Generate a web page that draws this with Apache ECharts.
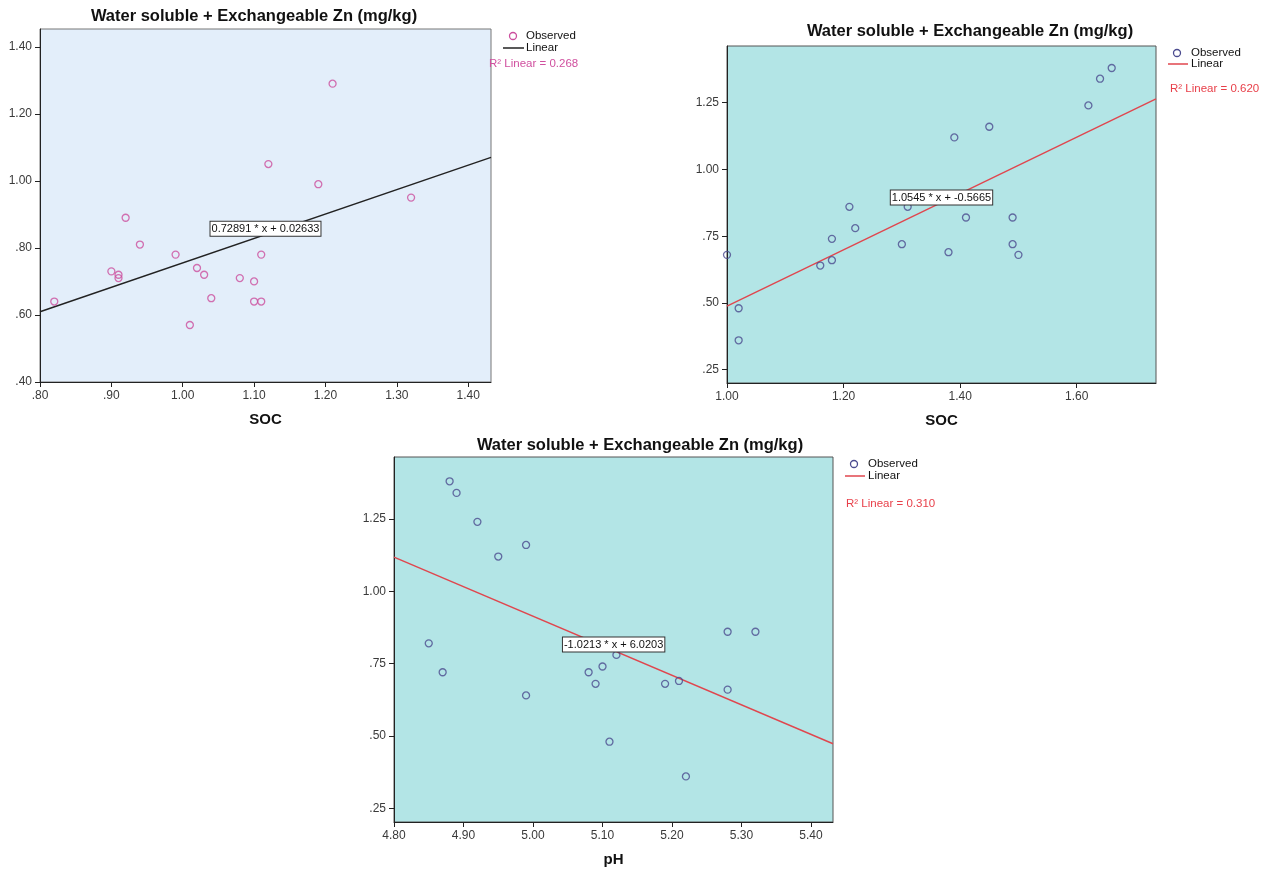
<!DOCTYPE html>
<html>
<head>
<meta charset="utf-8">
<title>Water soluble + Exchangeable Zn</title>
<script src="https://cdn.jsdelivr.net/npm/echarts@6/dist/echarts.min.js"></script>
<style>
html,body{margin:0;padding:0;background:#fff}
#chart{width:1267px;height:869px}
</style>
</head>
<body>
<div id="chart"></div>
<script>
// panel 1 : SOC vs Zn
const soc1 = [0.82,0.90,0.91,0.91,0.92,0.94,0.99,1.01,1.02,1.03,1.04,1.08,1.10,1.10,1.11,1.11,1.12,1.19,1.21,1.32]
const zn1  = [0.64,0.73,0.72,0.71,0.89,0.81,0.78,0.57,0.74,0.72,0.65,0.71,0.70,0.64,0.64,0.78,1.05,0.99,1.29,0.95]
// panel 2 : SOC vs Zn
const soc2 = [1.00,1.02,1.02,1.16,1.18,1.18,1.21,1.22,1.30,1.31,1.38,1.39,1.41,1.45,1.49,1.49,1.50,1.62,1.64,1.66]
const zn2  = [0.68,0.48,0.36,0.64,0.74,0.66,0.86,0.78,0.72,0.86,0.69,1.12,0.82,1.16,0.82,0.72,0.68,1.24,1.34,1.38]
// panel 3 : pH vs Zn
const ph3 = [4.85,4.87,4.88,4.89,4.92,4.95,4.99,4.99,5.08,5.09,5.10,5.11,5.12,5.19,5.21,5.22,5.28,5.28,5.32]
const zn3 = [0.82,0.72,1.38,1.34,1.24,1.12,1.16,0.64,0.72,0.68,0.74,0.48,0.78,0.68,0.69,0.36,0.86,0.66,0.86]

// fitted lines (slope, intercept) and R2
const fit1 = [0.72891, 0.02633]
const fit2 = [1.0545, -0.5665]
const fit3 = [-1.0213, 6.0203]
const r2 = ['0.268', '0.620', '0.310']
const eqText = ['0.72891 * x + 0.02633', '1.0545 * x + -0.5665', '-1.0213 * x + 6.0203']

// tick labels
const xTicks1 = [0.8,0.9,1.0,1.1,1.2,1.3,1.4]
const yTicks1 = [0.4,0.6,0.8,1.0,1.2,1.4]
const xTicks2 = [1.0,1.2,1.4,1.6]
const yTicks2 = [0.25,0.5,0.75,1.0,1.25]
const xTicks3 = [4.8,4.9,5.0,5.1,5.2,5.3,5.4]
const yTicks3 = [0.25,0.5,0.75,1.0,1.25]

const titleText = 'Water soluble + Exchangeable Zn (mg/kg)'
const FONT = '"Liberation Sans", Arial, sans-serif'

const mychart = echarts.init(document.getElementById('chart'))

function fmt(v){
  return v.toFixed(2).replace(/^0\./, '.')
}
function pairs(xs, ys){
  return xs.map((x,i)=>[x, ys[i]])
}
function fitLine(f, lo, hi){
  return [[lo, f[0]*lo+f[1]], [hi, f[0]*hi+f[1]]]
}

const ranges = [
  {x:[0.8,1.432], y:[0.4,1.453]},
  {x:[1.0,1.736], y:[0.2,1.4625]},
  {x:[4.8,5.4316], y:[0.2025,1.464]}
]
const xTicks = [xTicks1, xTicks2, xTicks3]
const yTicks = [yTicks1, yTicks2, yTicks3]
const xNames = ['SOC','SOC','pH']

function xAxisOf(i){
  return {
    type:'value', gridIndex:i,
    min:ranges[i].x[0], max:ranges[i].x[1],
    name:xNames[i], nameLocation:'middle', nameGap:30,
    nameTextStyle:{fontSize:15, fontWeight:'bold', color:'#111', fontFamily:FONT},
    axisLine:{show:true, onZero:false, lineStyle:{color:'#222', width:1}},
    axisTick:{show:true, length:5, customValues:xTicks[i], lineStyle:{color:'#222'}},
    axisLabel:{customValues:xTicks[i], formatter:fmt, margin:8, fontSize:12, color:'#3a3a3a', fontFamily:FONT},
    splitLine:{show:false}
  }
}
function yAxisOf(i){
  return {
    type:'value', gridIndex:i,
    min:ranges[i].y[0], max:ranges[i].y[1],
    axisLine:{show:true, onZero:false, lineStyle:{color:'#222', width:1}},
    axisTick:{show:true, length:5, customValues:yTicks[i], lineStyle:{color:'#222'}},
    axisLabel:{customValues:yTicks[i], formatter:fmt, margin:8, fontSize:12, color:'#3a3a3a', fontFamily:FONT},
    splitLine:{show:false}
  }
}

const markerCol = ['#cc4f9e', '#4b4b8f', '#4b4b8f']
const lineCol = ['#222222', '#e0464e', '#e0464e']
const r2Col = ['#d0509f', '#e8404a', '#e8404a']
const eqPos = [[1.116, 0.857], [1.368, 0.895], [5.116, 0.816]]
const fits = [fit1, fit2, fit3]
const pts = [pairs(soc1, zn1), pairs(soc2, zn2), pairs(ph3, zn3)]

const series = []
for (let i = 0; i < 3; i++) {
  series.push({
    name:'Linear', type:'line', xAxisIndex:i, yAxisIndex:i,
    data:fitLine(fits[i], ranges[i].x[0], ranges[i].x[1]),
    showSymbol:false, symbol:'none', silent:true,
    lineStyle:{color:lineCol[i], width:1.4},
    z:2,
    markPoint:{
      silent:true, symbol:'rect', symbolSize:0,
      data:[{coord:eqPos[i]}],
      label:{
        show:true, position:'inside', formatter:eqText[i],
        backgroundColor:'#fff', borderColor:'#333', borderWidth:1,
        padding:[2,1,1,1], color:'#111', fontSize:11, fontFamily:FONT
      },
      z:10
    }
  })
  series.push({
    name:'Observed', type:'scatter', xAxisIndex:i, yAxisIndex:i,
    data:pts[i], symbol:'circle', symbolSize:7,
    itemStyle:{color:'rgba(0,0,0,0)', borderColor:markerCol[i], borderWidth:1.3},
    z:3
  })
}

// legend boxes (pixel layout), titles
const legendPos = [
  {cx:513, cy:36, lx1:503, lx2:524, ly:48, tx:526, r2x:489, r2y:64},
  {cx:1177, cy:53, lx1:1168, lx2:1188, ly:64, tx:1191, r2x:1170, r2y:89},
  {cx:854, cy:464, lx1:845, lx2:865, ly:476, tx:868, r2x:846, r2y:504}
]
const titlePos = [[254, 16], [970, 31], [640, 445]]

const graphic = []
for (let i = 0; i < 3; i++) {
  const p = legendPos[i]
  graphic.push({type:'circle', shape:{cx:p.cx, cy:p.cy, r:3.5}, style:{fill:'none', stroke:markerCol[i], lineWidth:1.3}, z:20})
  graphic.push({type:'text', x:p.tx, y:p.cy, style:{text:'Observed', fill:'#111', font:'11.5px ' + FONT, align:'left', verticalAlign:'middle'}, z:20})
  graphic.push({type:'line', shape:{x1:p.lx1, y1:p.ly, x2:p.lx2, y2:p.ly}, style:{stroke:lineCol[i], lineWidth:1.5}, z:20})
  graphic.push({type:'text', x:p.tx, y:p.ly, style:{text:'Linear', fill:'#111', font:'11.5px ' + FONT, align:'left', verticalAlign:'middle'}, z:20})
  graphic.push({type:'text', x:p.r2x, y:p.r2y, style:{text:'R\u00b2 Linear = ' + r2[i], fill:r2Col[i], font:'11.5px ' + FONT, align:'left', verticalAlign:'middle'}, z:1})
  graphic.push({type:'text', x:titlePos[i][0], y:titlePos[i][1], style:{text:titleText, fill:'#111', font:'bold 16.5px ' + FONT, align:'center', verticalAlign:'middle'}, z:20})
}

const option = {
  animation:false,
  textStyle:{fontFamily:FONT},
  grid:[
    {left:40, top:29, width:451, height:353, show:true, backgroundColor:'#e3eefa', borderColor:'#777', borderWidth:1},
    {left:727, top:46, width:429, height:337, show:true, backgroundColor:'#b3e5e6', borderColor:'#555', borderWidth:1},
    {left:394, top:457, width:439, height:365, show:true, backgroundColor:'#b3e5e6', borderColor:'#555', borderWidth:1}
  ],
  xAxis:[xAxisOf(0), xAxisOf(1), xAxisOf(2)],
  yAxis:[yAxisOf(0), yAxisOf(1), yAxisOf(2)],
  series:series,
  graphic:graphic
}
mychart.setOption(option, true)
</script>
</body>
</html>
